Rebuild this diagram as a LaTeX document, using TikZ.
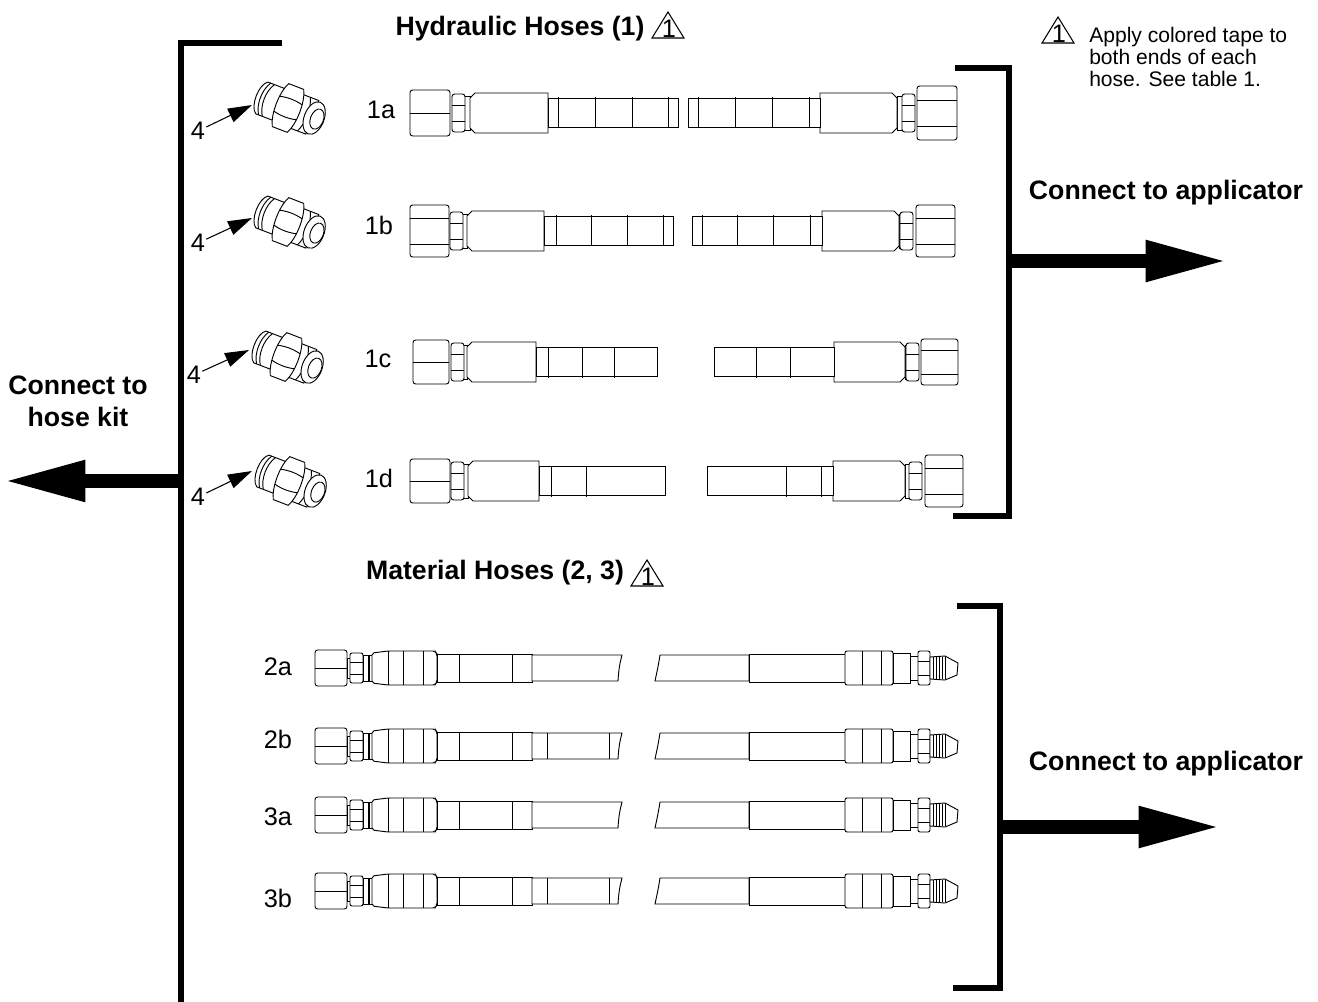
\documentclass[tikz,border=0pt]{standalone}
\usepackage{fontspec}
\setmainfont{Liberation Sans}
\usetikzlibrary{arrows.meta}

\tikzset{
  part/.style={draw=black,line width=0.7pt,fill=white},
  thinline/.style={line width=0.7pt},
  frameline/.style={line width=3.8pt,line cap=butt,line join=miter},
  bigarrow/.style={line width=11pt,-{Triangle[length=58pt,width=32pt,line width=0pt]}},
  leader/.style={line width=0.8pt,-{Triangle[length=18pt,width=11pt]}},
  itemlabel/.style={font=\fontsize{19}{22}\selectfont,inner sep=0.75pt},
  headlabel/.style={font=\fontsize{20}{24}\selectfont\bfseries,inner sep=0.75pt,align=center},
}

% nut: outer x, inner x, half height, list of flat lines
\newcommand{\hosenut}[4]{
  \draw [part,rounded corners=2] (#1,-#3) rectangle (#2,#3);
  \foreach \f in {#4} \draw [thinline] (#1,\f) -- (#2,\f);
}
% hydraulic end: direction, hex x, body start, body end, band lines, tail end
\newcommand{\hydend}[6]{
  \draw [part] (#2+#1*11,-17) rectangle (#3,17);
  \draw [part,rounded corners=2] (#2,-19) rectangle (#2+#1*13,19);
  \draw [thinline] (#2,-8) -- (#2+#1*13,-8) (#2,8) -- (#2+#1*13,8);
  \draw [part] (#3,-15) -- (#3+#1*5,-20) -- (#4,-20) -- (#4,20) -- (#3+#1*5,20) -- (#3,15) -- cycle;
  \draw [part] (#4,-14.5) rectangle (#6,14.5);
  \foreach \s in {#5} \draw [thinline] (\s,-15.5) -- (\s,15.5);
}
% material end with nut: band lines on the tail
\newcommand{\matleft}[1]{
  \hosenut{315}{347}{18}{0}
  \draw [part] (347,-10) rectangle (351,10);
  \draw [part,rounded corners=1.5] (350,-15) rectangle (363,15);
  \draw [thinline] (350,-6) -- (363,-6) (350,6) -- (363,6);
  \draw [part] (363,-13) rectangle (372,13);
  \draw [line width=2pt] (369,-13) -- (369,13);
  \draw [part,rounded corners=1.5] (372,-15) -- (388,-17) -- (435,-17) -- (437,-14) -- (437,14) -- (435,17) -- (388,17) -- (372,15) -- cycle;
  \foreach \s in {388,403,423} \draw [thinline] (\s,-17) -- (\s,17);
  \draw [part] (437,-14) rectangle (532,14);
  \foreach \s in {459,512} \draw [thinline] (\s,-14) -- (\s,14);
  \draw [part] (532,-13) -- (622,-13) .. controls (621,-8) and (619,-4) .. (618,13) -- (532,13) -- cycle;
  \foreach \s in {#1} \draw [thinline] (\s,-13) -- (\s,13);
}
% material end with flare
\newcommand{\matright}{
  \draw [part] (660,-13) -- (749,-13) -- (749,13) -- (655,13) .. controls (656,8) and (658,0) .. (660,-13);
  \draw [part] (749,-14) rectangle (845,14);
  \draw [part,rounded corners=1.5] (845,-17) rectangle (893,17);
  \foreach \s in {862,881} \draw [thinline] (\s,-17) -- (\s,17);
  \draw [part] (893,-15) -- (910,-15) -- (910,15) -- (893,15) -- cycle;
  \draw [part] (910,-12) rectangle (918,12);
  \draw [part,rounded corners=1.5] (918,-17) rectangle (930,17);
  \draw [thinline] (918,-7) -- (930,-7) (918,7) -- (930,7);
  \draw [part] (930,-11) -- (945,-12) -- (958,-5) -- (957,7) -- (945,12) -- (930,11) -- cycle;
  \foreach \s in {933,936,939,942,945} \draw [line width=0.5pt] (\s,-11) -- (\s,11);
}
% tilted fitting around its hex
\newcommand{\fitting}[3]{
  \begin{scope}[shift={(#1,#2)},rotate=#3]
    \draw [part] (-8,-17) -- (-28,-17) .. controls (-36,-12) and (-36,12) .. (-28,17) -- (-8,17) -- cycle;
    \draw [thinline] (-25,-17) .. controls (-31,-8) and (-31,8) .. (-25,17) (-21,-17) .. controls (-27,-8) and (-27,8) .. (-21,17);
    \draw [part] (8,-18) -- (26,-18) -- (26,18) -- (8,18) -- cycle;
    \draw [part] (-8,-23) -- (8,-23) .. controls (14,-12) and (14,12) .. (8,23) -- (-8,23) .. controls (-14,12) and (-14,-12) .. cycle;
    \draw [thinline] (-12,-8) .. controls (-4,-10) and (4,-10) .. (12,-8) (-12,8) .. controls (-4,10) and (4,10) .. (12,8);
    \draw [thinline] (17,-18) .. controls (22,-8) and (22,8) .. (17,18);
    \draw [part] (28,0) ellipse (10 and 17);
    \draw [part] (31,0) ellipse (6.5 and 10.5);
  \end{scope}
}
% tape mark with its number: name, apex x, apex y
\newcommand{\tapemark}[3]{
  \draw [line width=0.8pt] (#2-16,#3+26) -- (#2,#3) -- (#2+16,#3+26) -- cycle;
  \node [inner sep=0pt,font=\fontsize{19}{19}\selectfont] (#1) at (#2+1,#3+17) {1};
}

\begin{document}
\begin{tikzpicture}[x=0.75pt,y=0.75pt,yscale=-1,xscale=1]
\useasboundingbox (0,0) rectangle (1318,1002);

%Frame lines
\draw [frameline] (282,43) -- (181,43) -- (181,1002);
\draw [frameline] (955,68) -- (1009,68) -- (1009,516) -- (953,516);
\draw [frameline] (957,606) -- (1000,606) -- (1000,988) -- (953,988);

%Hydraulic hoses
\begin{scope}[shift={(0,113)}]
  \hosenut{410}{450}{23}{0}
  \hydend{1}{452}{470}{548}{558,595,632,668}{678}
  \hosenut{957}{917}{27}{-13,13}
  \hydend{-1}{915}{897}{820}{809,772,735,698}{688}
\end{scope}
\begin{scope}[shift={(0,231)}]
  \hosenut{410}{449}{26}{-13,13}
  \hydend{1}{450}{467}{544}{556,591,627,663}{673}
  \hosenut{955}{916}{26}{-13,13}
  \hydend{-1}{913}{899}{822}{810,773,737,702}{692}
\end{scope}
\begin{scope}[shift={(0,362)}]
  \hosenut{413}{449}{22}{0}
  \hydend{1}{451}{467}{536}{548,582,614}{657}
  \hosenut{958}{921}{23}{-12,12}
  \hydend{-1}{919}{905}{834}{790,756}{714}
\end{scope}
\begin{scope}[shift={(0,481)}]
  \hosenut{410}{450}{22}{0}
  \hydend{1}{451}{468}{539}{551,586}{665}
  \hosenut{963}{925}{26}{-13,13}
  \hydend{-1}{922}{905}{833}{821,786}{707}
\end{scope}

%Material hoses
\begin{scope}[shift={(0,668)}]
  \matleft{}
  \matright
\end{scope}
\begin{scope}[shift={(0,746)}]
  \matleft{547,609}
  \matright
\end{scope}
\begin{scope}[shift={(0,815)}]
  \matleft{}
  \matright
\end{scope}
\begin{scope}[shift={(0,891)}]
  \matleft{547,609}
  \matright
\end{scope}

%Fittings
\fitting{288}{108}{21}
\fitting{288}{222}{21}
\fitting{286}{357}{21}
\fitting{289}{481}{21}

% Text Node
\node [itemlabel] (itemA) at (381,110) {1a};
\node [itemlabel] (itemB) at (379,225) {1b};
\node [itemlabel] (itemC) at (378,359) {1c};
\node [itemlabel] (itemD) at (379,478) {1d};
\node [itemlabel] (itemE) at (278,667) {2a};
\node [itemlabel] (itemF) at (278,739) {2b};
\node [itemlabel] (itemG) at (278,817) {3a};
\node [itemlabel] (itemH) at (278,898) {3b};
\node [itemlabel] (fourA) at (198,131) {4};
\node [itemlabel] (fourB) at (198,243) {4};
\node [itemlabel] (fourC) at (194,375) {4};
\node [itemlabel] (fourD) at (198,497) {4};

%Leaders
\coordinate (tipA) at (252,105);
\coordinate (tipB) at (252,218);
\coordinate (tipC) at (249,350);
\coordinate (tipD) at (252,471);
\foreach \n in {A,B,C,D} \draw [leader] (four\n) -- (tip\n);

% Text Node
\node [headlabel] (titleHyd) at (520,29) {Hydraulic Hoses (1)};
\node [headlabel] (titleMat) at (495,573) {Material Hoses (2, 3)};
\node [headlabel] (toAppA) at (1166,193) {Connect to applicator};
\node [headlabel] (toAppB) at (1166,764) {Connect to applicator};
\node [headlabel] (toKit) at (78,401) {Connect to\\hose kit};
\node [anchor=north west,inner sep=0.75pt,align=left,font=\fontsize{15.8}{16.5}\selectfont] (tapeNote) at (1088,26) {Apply colored tape to\\both ends of each\\hose. See table 1.};

%Tape marks
\tapemark{markHyd}{668}{12}
\tapemark{markMat}{647}{560}
\tapemark{markNote}{1058}{17}

%Big arrows
\coordinate (outA) at (1009,261);
\coordinate (endA) at (1223,261);
\coordinate (outB) at (1002,827);
\coordinate (endB) at (1216,827);
\coordinate (outC) at (181,481);
\coordinate (endC) at (8,481);
\draw [bigarrow] (outA) -- (endA);
\draw [bigarrow] (outB) -- (endB);
\draw [bigarrow] (outC) -- (endC);
\end{tikzpicture}
\end{document}
